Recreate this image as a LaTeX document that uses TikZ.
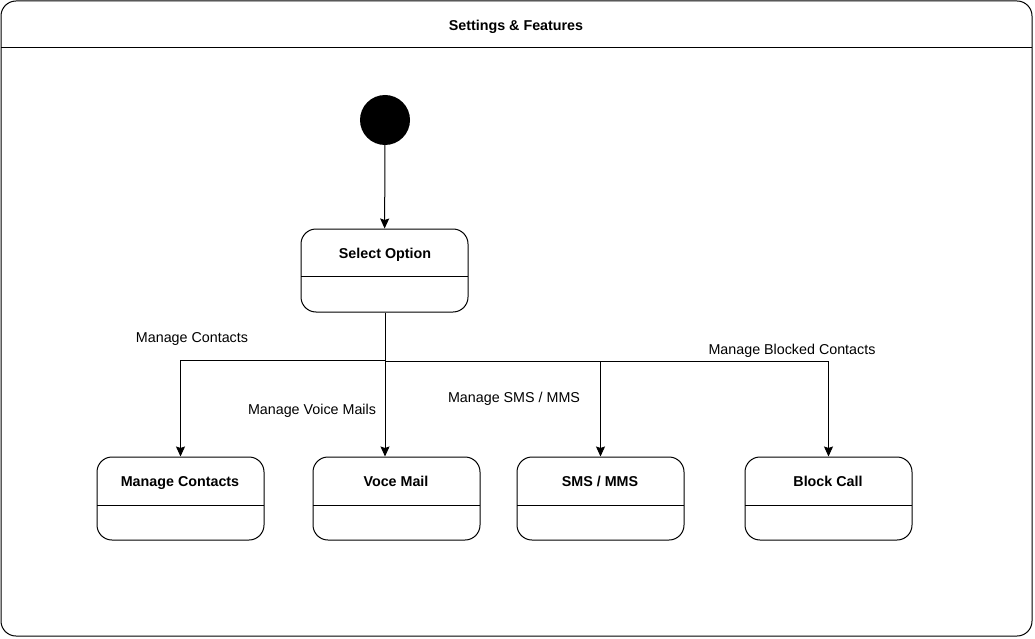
\documentclass[tikz,border=0pt]{standalone}
\usepackage{fontspec}
\setmainfont{Liberation Sans}
\usetikzlibrary{arrows.meta}
\begin{document}
\begin{tikzpicture}[x=1pt,y=-1pt,
  every node/.style={font=\fontsize{14.3}{17}\selectfont},
  ln/.style={line width=1pt, draw=black},
  arr/.style={ln, -{Stealth[length=10pt,width=9pt,inset=1.5pt]}},
  statebox/.style={ln, rectangle, rounded corners=15pt, minimum width=167pt, minimum height=83pt, inner sep=0pt},
  ttl/.style={font=\fontsize{14.3}{17}\selectfont\bfseries, text height=10.5pt, text depth=0pt},
  lbl/.style={inner sep=1pt, text height=10.5pt, text depth=0pt}
]
\useasboundingbox (0,0) rectangle (1035,639);
% outer frame
\draw[ln, rounded corners=15pt] (1,1) rectangle (1032,636);
\draw[ln] (1,48) -- (1032,48);
\node[ttl] (frame) at (516,25) {Settings \& Features};

% initial state
\node[circle, fill=black, minimum size=50pt, inner sep=0pt] (init) at (385,120) {};

% states
\node[statebox] (so) at (384.5,270.5) {};
\draw[ln] (301,276) -- (468,276);
\node[ttl] (sot) at (385,253) {Select Option};

\node[statebox] (mc) at (180.5,498.5) {};
\draw[ln] (97,505) -- (264,505);
\node[ttl] (mct) at (180,481) {Manage Contacts};

\node[statebox] (vm) at (396.5,498.5) {};
\draw[ln] (313,505) -- (480,505);
\node[ttl] (vmt) at (396,481) {Voce Mail};

\node[statebox] (sms) at (600.5,498.5) {};
\draw[ln] (517,505) -- (684,505);
\node[ttl] (smst) at (600,481) {SMS / MMS};

\node[statebox] (bc) at (828.5,498.5) {};
\draw[ln] (745,505) -- (912,505);
\node[ttl] (bct) at (828,481) {Block Call};

% connectors
\coordinate (j1) at (385,360);
\coordinate (j2) at (385,361);
\draw[arr] (init) -- (so);
\draw[ln] (so.south -| j1) -- (j1);
\draw[arr] (j1) -| (mc.north);
\draw[arr] (j1) -- (j1 |- vm.north);
\draw[arr] (j2) -| (sms.north);
\draw[arr] (j2) -| (bc.north);

% labels
\node[lbl] (l1) at (192,337) {Manage Contacts};
\node[lbl] (l2) at (312,409) {Manage Voice Mails};
\node[lbl] (l3) at (514,397) {Manage SMS / MMS};
\node[lbl] (l4) at (792,349) {Manage Blocked Contacts};
\end{tikzpicture}
\end{document}
